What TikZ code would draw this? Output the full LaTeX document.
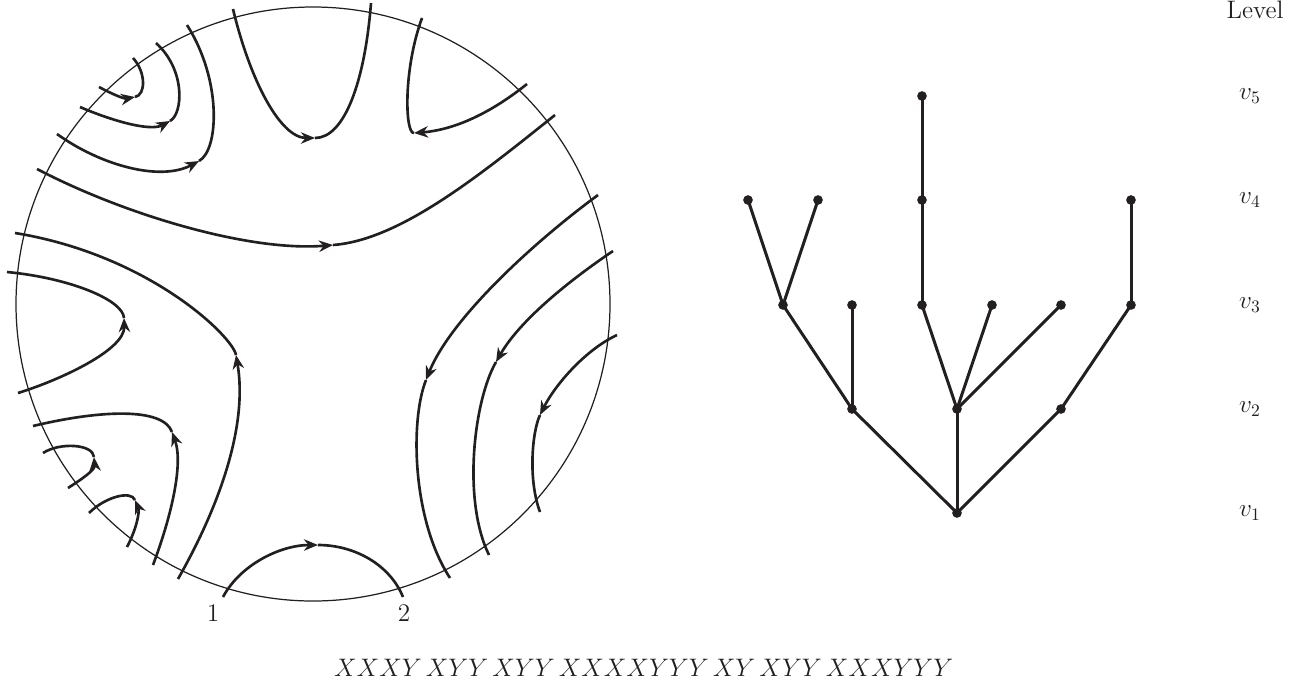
\documentclass[tikz,border=0pt]{standalone}
\usepackage{xcolor}
\usepackage{tikz}
\usetikzlibrary{arrows.meta}
\definecolor{ink}{RGB}{35,31,32}

\begin{document}
\begin{tikzpicture}[x=0.02cm,y=-0.02cm,font=\Large,color=ink,
  rim/.style={line width=0.7pt},
  flow/.style={line width=1.5pt},
  edge/.style={line width=1.7pt},
  dot/.style={circle,fill,inner sep=0pt,minimum size=5.5pt},
  >={Stealth[length=8pt,width=6.5pt]},
]
  \useasboundingbox (0,0) rectangle (1294,680);

  \draw[rim] (313,304) circle[radius=297];

  \draw[flow,->] (99,87) .. controls (112,94) and (124,99) .. (135,97);
  \draw[flow] (135,97) .. controls (146,95) and (146,72) .. (133,58);
  \draw[flow,->] (80,107) .. controls (110,120) and (150,132) .. (170,121);
  \draw[flow] (170,121) .. controls (183,114) and (186,70) .. (156,43);
  \draw[flow,->] (57,134) .. controls (100,165) and (160,182) .. (199,161);
  \draw[flow] (199,161) .. controls (219,150) and (222,80) .. (187,25);
  \draw[flow,->] (37,169) .. controls (125,215) and (250,252) .. (333,245);
  \draw[flow] (333,245) .. controls (400,240) and (480,175) .. (555,115);
  \draw[flow,->] (233,9) .. controls (250,80) and (280,138) .. (315,138);
  \draw[flow] (315,138) .. controls (345,138) and (365,80) .. (371,3);
  \draw[flow,->] (527,84) .. controls (477,124) and (440,131) .. (414,133);
  \draw[flow] (414,133) .. controls (405,134) and (403,70) .. (422,18);

  \draw[flow,->] (598,195) .. controls (530,245) and (450,320) .. (426,380);
  \draw[flow] (426,380) .. controls (410,420) and (412,520) .. (450,578);
  \draw[flow,->] (613,251) .. controls (570,280) and (520,320) .. (496,362);
  \draw[flow] (496,362) .. controls (474,400) and (462,500) .. (489,555);
  \draw[flow,->] (617,335) .. controls (585,350) and (555,385) .. (540,415);
  \draw[flow] (540,415) .. controls (532,432) and (528,480) .. (540,512);

  \draw[flow,->] (223,597) .. controls (240,565) and (280,545) .. (318,545);
  \draw[flow] (318,545) .. controls (355,545) and (390,565) .. (403,597);

  \draw[flow,->] (178,579) .. controls (220,505) and (248,425) .. (236,355);
  \draw[flow] (236,355) .. controls (233,337) and (150,255) .. (15,233);
  \draw[flow,->] (153,565) .. controls (170,520) and (184,465) .. (172,432);
  \draw[flow] (172,432) .. controls (163,407) and (100,410) .. (33,426);
  \draw[flow,->] (127,547) .. controls (136,530) and (140,512) .. (135,500);
  \draw[flow] (135,500) .. controls (131,490) and (105,497) .. (89,513);
  \draw[flow,->] (68,488) .. controls (82,479) and (95,470) .. (94,457);
  \draw[flow] (94,457) .. controls (93,444) and (60,442) .. (43,453);
  \draw[flow,->] (18,393) .. controls (60,380) and (125,350) .. (124,318);
  \draw[flow] (124,318) .. controls (123,300) and (70,278) .. (7,272);

  \node (p1) at (213,613) {1};
  \node (p2) at (404,613) {2};

  \foreach \n/\x/\y in {r/957/513, a1/852/409, a2/957/409, a3/1061/409,
      b1/783/305, b2/852/305, b3/922/305, b4/992/305, b5/1061/305, b6/1131/305,
      c1/748/200, c2/818/200, c3/922/200, c4/1131/200, d1/922/96}
    \node[dot] (\n) at (\x,\y) {};
  \foreach \a/\b in {r/a1, r/a2, r/a3, a1/b1, a1/b2, a2/b3, a2/b4, a2/b5,
      a3/b6, b1/c1, b1/c2, b3/c3, b6/c4, c3/d1}
    \draw[edge] (\a.center) -- (\b.center);

  \node[anchor=base] (lvl) at (1255,18) {Level};
  \foreach \i/\y in {1/513,2/409,3/305,4/200,5/96}
    \node (v\i) at (1250,\y) {$v_\i$};

  \node[anchor=base west] (word) at (328,676)
    {$XXXY\,XYY\,XYY\,XXXXYYY\,XY\,XYY\,XXXYYY$};
\end{tikzpicture}
\end{document}
